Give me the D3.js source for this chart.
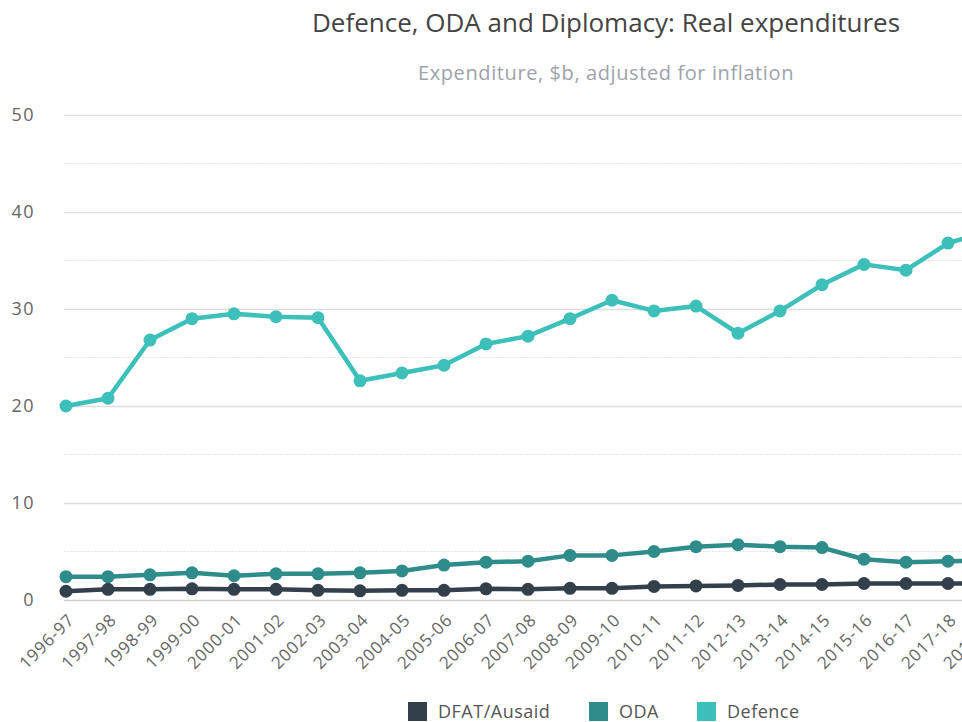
<!DOCTYPE html>
<html>
<head>
<meta charset="utf-8">
<script src="https://cdn.jsdelivr.net/npm/d3@7"></script>
<style>
  html, body { margin: 0; padding: 0; background: #fff; overflow: hidden; }
  body { font-family: "Open Sans", sans-serif; }
</style>
</head>
<body>
<div id="container"></div>
<script>
// categories: financial years
const years = ["1996-97", "1997-98", "1998-99", "1999-00", "2000-01", "2001-02", "2002-03",
  "2003-04", "2004-05", "2005-06", "2006-07", "2007-08", "2008-09", "2009-10", "2010-11",
  "2011-12", "2012-13", "2013-14", "2014-15", "2015-16", "2016-17", "2017-18", "2018-19"];

// series values, $b real
const dfat = [0.9, 1.1, 1.1, 1.15, 1.1, 1.1, 1.0, 0.95, 1.0, 1.0, 1.15, 1.1, 1.2, 1.2, 1.4,
  1.45, 1.5, 1.6, 1.6, 1.7, 1.7, 1.7, 1.7];
const oda = [2.4, 2.4, 2.6, 2.8, 2.5, 2.7, 2.7, 2.8, 3.0, 3.6, 3.9, 4.0, 4.6, 4.6, 5.0,
  5.5, 5.7, 5.5, 5.4, 4.2, 3.9, 4.0, 4.1];
const defence = [20.0, 20.8, 26.8, 29.0, 29.5, 29.2, 29.1, 22.6, 23.4, 24.2, 26.4, 27.2, 29.0,
  30.9, 29.8, 30.3, 27.5, 29.8, 32.5, 34.6, 34.0, 36.8, 38.0];

const seriesNames = ["DFAT/Ausaid", "ODA", "Defence"];
const seriesColors = ["#333f4a", "#2e8c8a", "#3cc0b9"];
const yTicks = [0, 10, 20, 30, 40, 50];
const yMinorTicks = [5, 15, 25, 35, 45];

const series = [dfat, oda, defence];

// chart is wider than the window, right side gets cut off
const w = 1212;
const h = 722;
const font = "'Open Sans', sans-serif";

const svg = d3.select("#container").
  append("svg").
  attr("width", w).
  attr("height", h).
  attr("font-family", font);

const xScale = d3.scalePoint().
  domain(years).
  range([66, 990]);

const yScale = d3.scaleLinear().
  domain([0, 50]).
  range([600, 115]);

// minor grid (dotted)
svg.append("g").
  selectAll("line").
  data(yMinorTicks).
  enter().
  append("line").
  attr("x1", 64).
  attr("x2", w).
  attr("y1", d => yScale(d)).
  attr("y2", d => yScale(d)).
  attr("stroke", "#e6e6e6").
  attr("stroke-width", 1).
  attr("stroke-dasharray", "2,1");

// y axis with major grid
const yAxis = d3.axisLeft(yScale).
  tickValues(yTicks).
  tickSize(-(w - 64)).
  tickPadding(29);

svg.append("g").
  attr("id", "y-axis").
  attr("transform", "translate(64,0)").
  call(yAxis).
  call(g => g.select(".domain").remove()).
  call(g => g.selectAll(".tick line").
    attr("stroke", d => d === 0 ? "#cfcfcf" : "#dedede").
    attr("stroke-width", 1.5)).
  call(g => g.selectAll(".tick text").
    attr("fill", "#666").
    attr("font-size", 18).
    attr("letter-spacing", 1.5).
    attr("font-family", font));

// x axis, rotated labels
const xAxis = d3.axisBottom(xScale).tickSize(0).tickPadding(0);

svg.append("g").
  attr("id", "x-axis").
  attr("transform", "translate(0,600)").
  call(xAxis).
  call(g => g.select(".domain").remove()).
  call(g => g.selectAll(".tick text").
    attr("fill", "#666").
    attr("font-size", 17).
    attr("letter-spacing", 0.8).
    attr("font-family", font).
    attr("text-anchor", "end").
    attr("dy", 0).
    attr("transform", "translate(9,21) rotate(-45)"));

// lines and points
const line = d3.line().
  x((d, i) => xScale(years[i])).
  y(d => yScale(d));

series.forEach((vals, k) => {
  const g = svg.append("g");
  g.append("path").
    datum(vals).
    attr("fill", "none").
    attr("stroke", seriesColors[k]).
    attr("stroke-width", 4.5).
    attr("stroke-linejoin", "round").
    attr("d", line);
  g.selectAll("circle").
    data(vals).
    enter().
    append("circle").
    attr("cx", (d, i) => xScale(years[i])).
    attr("cy", d => yScale(d)).
    attr("r", 6.5).
    attr("fill", seriesColors[k]);
});

// title + subtitle
svg.append("text").
  attr("x", 606).
  attr("y", 32).
  attr("text-anchor", "middle").
  attr("font-size", 26).
  attr("fill", "#444").
  text("Defence, ODA and Diplomacy: Real expenditures");

svg.append("text").
  attr("x", 606).
  attr("y", 80).
  attr("text-anchor", "middle").
  attr("font-size", 20).
  attr("letter-spacing", 0.6).
  attr("fill", "#9ea3aa").
  text("Expenditure, $b, adjusted for inflation");

// legend
const legendX = [408, 589, 697];
const legend = svg.append("g").attr("transform", "translate(0,702)");
seriesNames.forEach((name, k) => {
  legend.append("rect").
    attr("x", legendX[k]).
    attr("y", 0).
    attr("width", 19).
    attr("height", 19).
    attr("fill", seriesColors[k]);
  legend.append("text").
    attr("x", legendX[k] + 30).
    attr("y", 16).
    attr("font-size", 18).
    attr("letter-spacing", 0.5).
    attr("fill", "#555").
    text(name);
});
</script>
</body>
</html>
